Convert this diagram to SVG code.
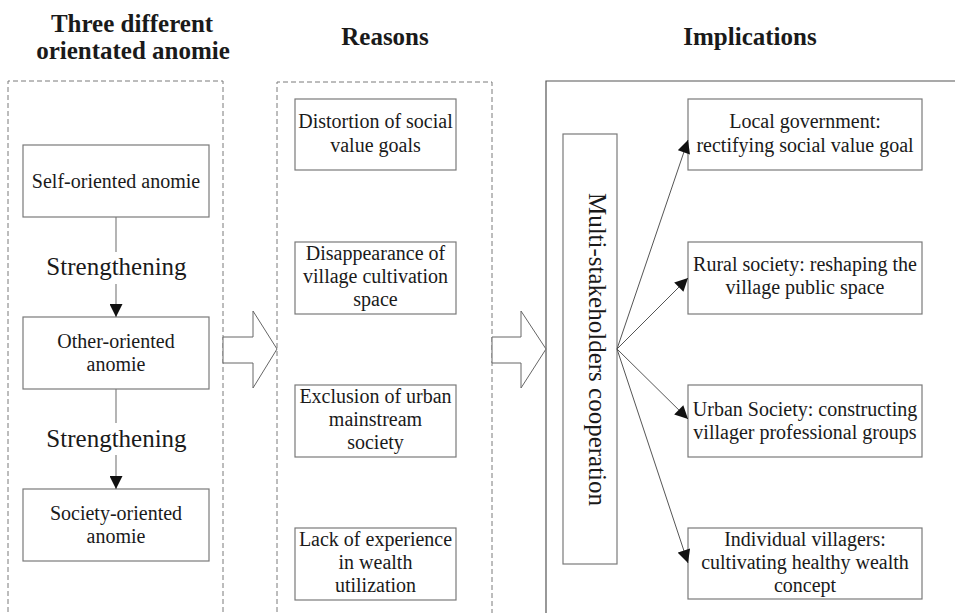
<svg xmlns="http://www.w3.org/2000/svg" width="955" height="613" viewBox="0 0 955 613">
<style>
text{font-family:"Liberation Serif","Times New Roman",serif;fill:#1a1a1a}
.h{font-size:25px;font-weight:bold;text-anchor:middle}
.t{font-size:20px;text-anchor:middle}
.s{font-size:25px;text-anchor:middle}
.box{fill:#fff;stroke:#7a7a7a;stroke-width:1.2}
.dash{fill:none;stroke:#7a7a7a;stroke-width:1;stroke-dasharray:5,3}
.solid{fill:none;stroke:#555;stroke-width:1.2}
.hollow{fill:#fff;stroke:#666;stroke-width:1}
.con{fill:none;stroke:#777;stroke-width:1.1}
.fan{fill:none;stroke:#555;stroke-width:1}
</style>
<defs>
<marker id="ah" viewBox="0 0 10 10" refX="10" refY="5" markerWidth="14" markerHeight="13" markerUnits="userSpaceOnUse" orient="auto">
<path d="M0,0 L10,5 L0,10 z" fill="#111"/>
</marker>
</defs>
<g id="headings">
<text class="h" x="132" y="32">Three different</text>
<text class="h" x="133" y="59">orientated anomie</text>
<text class="h" x="385" y="45">Reasons</text>
<text class="h" x="750" y="45">Implications</text>
</g>
<g id="frames">
<path class="dash" d="M8,620 V81 H223 V620"/>
<path class="dash" d="M277,620 V82 H492 V620"/>
<path class="solid" d="M546,620 V81 H960"/>
</g>
<g id="self-oriented">
<rect class="box" x="23" y="145" width="186" height="72"/>
<text class="t" x="116" y="188">Self-oriented anomie</text>
</g>
<g id="other-oriented">
<rect class="box" x="23" y="317" width="186" height="72"/>
<text class="t" x="116" y="348">Other-oriented</text>
<text class="t" x="116" y="371">anomie</text>
</g>
<g id="society-oriented">
<rect class="box" x="23" y="489" width="186" height="72"/>
<text class="t" x="116" y="520">Society-oriented</text>
<text class="t" x="116" y="543">anomie</text>
</g>
<g id="reason1">
<rect class="box" x="295" y="99" width="161" height="71"/>
<text class="t" x="375.5" y="128">Distortion of social</text>
<text class="t" x="375.5" y="152">value goals</text>
</g>
<g id="reason2">
<rect class="box" x="295" y="242" width="161" height="72"/>
<text class="t" x="375.5" y="260">Disappearance of</text>
<text class="t" x="375.5" y="283">village cultivation</text>
<text class="t" x="375.5" y="306">space</text>
</g>
<g id="reason3">
<rect class="box" x="295" y="385" width="161" height="72"/>
<text class="t" x="375.5" y="403">Exclusion of urban</text>
<text class="t" x="375.5" y="426">mainstream</text>
<text class="t" x="375.5" y="449">society</text>
</g>
<g id="reason4">
<rect class="box" x="295" y="528" width="161" height="72"/>
<text class="t" x="375.5" y="546">Lack of experience</text>
<text class="t" x="375.5" y="569">in wealth</text>
<text class="t" x="375.5" y="592">utilization</text>
</g>
<g id="multi-stakeholders">
<rect class="box" x="563" y="134" width="54" height="430"/>
<text class="s" transform="translate(589,349.5) rotate(90)" x="0" y="0">Multi-stakeholders cooperation</text>
</g>
<g id="impl1">
<rect class="box" x="688" y="99" width="234" height="71"/>
<text class="t" x="805" y="128">Local government:</text>
<text class="t" x="805" y="152">rectifying social value goal</text>
</g>
<g id="impl2">
<rect class="box" x="688" y="242" width="234" height="72"/>
<text class="t" x="805" y="271">Rural society: reshaping the</text>
<text class="t" x="805" y="294">village public space</text>
</g>
<g id="impl3">
<rect class="box" x="688" y="385" width="234" height="72"/>
<text class="t" x="805" y="416">Urban Society: constructing</text>
<text class="t" x="805" y="439">villager professional groups</text>
</g>
<g id="impl4">
<rect class="box" x="688" y="528" width="234" height="71"/>
<text class="t" x="805" y="546">Individual villagers:</text>
<text class="t" x="805" y="569">cultivating healthy wealth</text>
<text class="t" x="805" y="592">concept</text>
</g>
<g id="connectors">
<line class="con" x1="116" y1="217" x2="116" y2="252"/>
<line class="con" x1="116" y1="284" x2="116" y2="317" marker-end="url(#ah)"/>
<text class="s" x="116.5" y="275">Strengthening</text>
<line class="con" x1="116" y1="389" x2="116" y2="423"/>
<line class="con" x1="116" y1="455" x2="116" y2="489" marker-end="url(#ah)"/>
<text class="s" x="116.5" y="447">Strengthening</text>
<polygon class="hollow" points="223,337 253,337 253,311 277,349 253,388 253,363 223,363"/>
<polygon class="hollow" points="492,337 521,337 521,311 546,349 521,388 521,363 492,363"/>
<line class="fan" x1="617" y1="349" x2="688" y2="140" marker-end="url(#ah)"/>
<line class="fan" x1="617" y1="349" x2="688" y2="278" marker-end="url(#ah)"/>
<line class="fan" x1="617" y1="349" x2="688" y2="419" marker-end="url(#ah)"/>
<line class="fan" x1="617" y1="349" x2="688" y2="563" marker-end="url(#ah)"/>
</g>
</svg>
